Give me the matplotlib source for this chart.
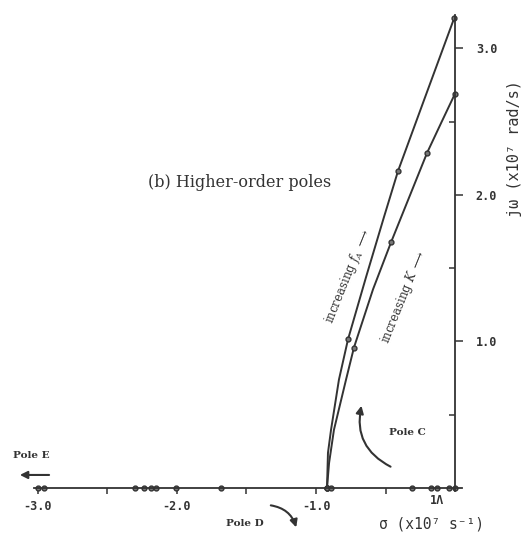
import matplotlib.pyplot as plt

plt.rcParams['mathtext.fontset'] = 'dejavuserif'

# upper branch (increasing f_A), x1e7 units
fa_sigma = [-0.921, -0.914, -0.892, -0.835, -0.770, -0.640, -0.511, -0.410, -0.223, -0.007]
fa_jw = [0.0, 0.240, 0.397, 0.740, 1.014, 1.440, 1.850, 2.164, 2.648, 3.205]
fa_marks = [0, 4, 7, 9]

# lower branch (increasing K)
k_sigma = [-0.921, -0.906, -0.871, -0.784, -0.727, -0.590, -0.460, -0.201, -0.101, 0.0]
k_jw = [0.0, 0.171, 0.397, 0.740, 0.959, 1.356, 1.678, 2.288, 2.490, 2.692]
k_marks = [0, 4, 6, 7, 9]

# poles sitting on the real axis
real_sigma = [-3.0, -2.96, -2.30, -2.24, -2.19, -2.15, -2.01, -1.68,
              -0.92, -0.89, -0.31, -0.17, -0.13, -0.04, 0.0]

xticks = [-3.0, -2.0, -1.0]
xlabels = ['-3.0', '-2.0', '-1.0']
yticks = [1.0, 2.0, 3.0]
ylabels = ['1.0', '2.0', '3.0']

ink = '#333333'
mono = dict(family='DejaVu Sans Mono', fontweight='bold', fontsize=8.5, color=ink)
serif = 'DejaVu Serif'

fig = plt.figure(figsize=(5.24, 5.34), dpi=100)
ax = fig.add_axes([0, 0, 1, 1])
ax.set_xlim(-3.273, 0.496)
ax.set_ylim(-0.314, 3.331)

## axes drawn through the origin
for s in ['left', 'top']:
    ax.spines[s].set_visible(False)
ax.spines['bottom'].set_position(('data', 0))
ax.spines['right'].set_position(('data', 0))
ax.spines['bottom'].set_bounds(-3.03, 0.05)
ax.spines['right'].set_bounds(-0.02, 3.23)
for s in ['bottom', 'right']:
    ax.spines[s].set_linewidth(1.3)
    ax.spines[s].set_color(ink)
ax.yaxis.tick_right()

ax.set_xticks(xticks, xlabels)
ax.set_xticks([-2.5, -1.5, -0.5], minor=True)
ax.set_yticks(yticks, ylabels)
ax.set_yticks([0.5, 1.5, 2.5], minor=True)
ax.tick_params(axis='x', which='both', direction='out', length=4, width=1.1,
               pad=5, colors=ink)
ax.tick_params(axis='y', which='major', direction='out', length=6, width=1.1,
               pad=9, colors=ink)
ax.tick_params(axis='y', which='minor', direction='in', length=4, width=1.1,
               colors=ink)
for lab in ax.get_xticklabels() + ax.get_yticklabels():
    lab.set(**mono)

## loci
ax.plot(fa_sigma, fa_jw, color=ink, lw=1.4, marker='o', ms=3.5,
        markevery=fa_marks, mfc='#777777', mec=ink)
ax.plot(k_sigma, k_jw, color=ink, lw=1.4, marker='o', ms=3.5,
        markevery=k_marks, mfc='#777777', mec=ink)
ax.plot(real_sigma, [0] * len(real_sigma), 'o', ms=3.5, mfc='#777777',
        mec=ink, clip_on=False)

## labels
ax.text(-2.209, 2.082, '(b) Higher-order poles', family=serif, fontsize=11.5,
        color=ink, ha='left', va='center')
ax.text(-0.77, 1.447, r'increasing $f_A$ $\longrightarrow$', family=serif,
        fontsize=8.5, rotation=68, rotation_mode='anchor', ha='center',
        va='center', color=ink)
ax.text(-0.367, 1.304, r'increasing $K$ $\longrightarrow$', family=serif,
        fontsize=8.5, rotation=68, rotation_mode='anchor', ha='center',
        va='center', color=ink)

pole_kw = dict(family=serif, fontweight='bold', fontsize=7.5, color=ink,
               ha='center', va='center')
arrow_kw = dict(arrowstyle='-|>', color=ink, lw=1.5, mutation_scale=11)
ax.text(-3.05, 0.225, 'Pole E', **pole_kw)
ax.annotate('', xy=(-3.15, 0.089), xytext=(-2.90, 0.089), arrowprops=arrow_kw)
ax.text(-1.51, -0.239, 'Pole D', **pole_kw)
ax.annotate('', xy=(-1.137, -0.287), xytext=(-1.345, -0.116),
            arrowprops=dict(connectionstyle='arc3,rad=-0.35', **arrow_kw))
ax.text(-0.345, 0.382, 'Pole C', **pole_kw)
ax.annotate('', xy=(-0.669, 0.580), xytext=(-0.446, 0.137),
            arrowprops=dict(connectionstyle='arc3,rad=-0.4', **arrow_kw))
ax.text(-0.13, -0.082, '1Λ', family='DejaVu Sans Mono', fontweight='bold',
        fontsize=8.5, color=ink, ha='center', va='center')

fig.text(0.981, 0.721, 'jω (x10⁷ rad/s)', family='DejaVu Sans Mono',
         fontsize=11, rotation=90, ha='center', va='center', color=ink)
fig.text(0.824, 0.019, 'σ (x10⁷ s⁻¹)', family='DejaVu Sans Mono',
         fontsize=10.5, ha='center', va='center', color=ink)

fig.savefig('out.png', dpi=100)
